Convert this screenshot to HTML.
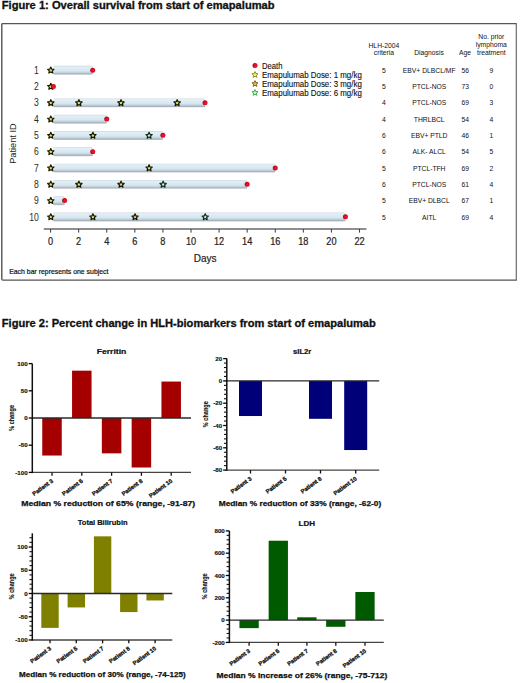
<!DOCTYPE html>
<html><head><meta charset="utf-8"><style>
html,body{margin:0;padding:0;background:#fff;width:520px;height:683px;overflow:hidden}
svg{display:block}
text{font-family:"Liberation Sans", sans-serif}
</style></head><body>
<svg width="520" height="683" viewBox="0 0 520 683">
<defs>
<linearGradient id="bar" x1="0" y1="0" x2="0" y2="1">
<stop offset="0" stop-color="#c9d5db"/>
<stop offset="0.12" stop-color="#e3eff6"/>
<stop offset="0.55" stop-color="#d6e8f1"/>
<stop offset="0.75" stop-color="#c4d2dc"/>
<stop offset="0.9" stop-color="#a6b0ba"/>
<stop offset="1" stop-color="#c4cad0"/>
</linearGradient>
<radialGradient id="dot" cx="0.6" cy="0.55" r="0.6">
<stop offset="0" stop-color="#f01838"/>
<stop offset="0.6" stop-color="#d80c20"/>
<stop offset="1" stop-color="#a80010"/>
</radialGradient>
</defs>
<rect x="0" y="0" width="520" height="683" fill="#fff"/>

<text x="1.80" y="8.70" font-size="10.2" text-anchor="start" font-weight="bold" fill="#111" textLength="272.80" lengthAdjust="spacingAndGlyphs" stroke="#111" stroke-width="0.3">Figure 1: Overall survival from start of emapalumab</text>
<path d="M516.2,23.6 H2.8 Q1.8,23.6 1.8,24.6 V279.1 Q1.8,280.1 2.8,280.1 H516.2" fill="none" stroke="#555" stroke-width="1.4"/>
<line x1="516.3" y1="23" x2="516.3" y2="280.7" stroke="#6a6a6a" stroke-width="1.2"/>
<rect x="53.20" y="65.85" width="39.52" height="8.9" rx="1.2" fill="url(#bar)"/>
<text x="0" y="0" font-size="10" text-anchor="end" fill="#2a2a2a" transform="translate(38.9,73.80) scale(0.86,1)">1</text>
<polygon points="50.80,67.05 51.71,69.10 53.94,69.33 52.28,70.83 52.74,73.02 50.80,71.90 48.86,73.02 49.32,70.83 47.66,69.33 49.89,69.10" fill="#e4ee5c" stroke="#141400" stroke-width="1.2" stroke-linejoin="round"/>
<circle cx="92.72" cy="70.15" r="2.5" fill="url(#dot)"/>
<text x="0" y="0" font-size="10" text-anchor="end" fill="#2a2a2a" transform="translate(38.9,90.10) scale(0.86,1)">2</text>
<polygon points="50.80,83.35 51.71,85.40 53.94,85.63 52.28,87.13 52.74,89.32 50.80,88.20 48.86,89.32 49.32,87.13 47.66,85.63 49.89,85.40" fill="#e4ee5c" stroke="#141400" stroke-width="1.2" stroke-linejoin="round"/>
<circle cx="53.41" cy="86.45" r="2.5" fill="url(#dot)"/>
<rect x="53.20" y="98.45" width="151.84" height="8.9" rx="1.2" fill="url(#bar)"/>
<text x="0" y="0" font-size="10" text-anchor="end" fill="#2a2a2a" transform="translate(38.9,106.40) scale(0.86,1)">3</text>
<polygon points="50.80,99.65 51.71,101.70 53.94,101.93 52.28,103.43 52.74,105.62 50.80,104.50 48.86,105.62 49.32,103.43 47.66,101.93 49.89,101.70" fill="#e4ee5c" stroke="#141400" stroke-width="1.2" stroke-linejoin="round"/>
<polygon points="78.88,99.65 79.79,101.70 82.02,101.93 80.36,103.43 80.82,105.62 78.88,104.50 76.94,105.62 77.40,103.43 75.74,101.93 77.97,101.70" fill="#e4ee5c" stroke="#141400" stroke-width="1.2" stroke-linejoin="round"/>
<polygon points="121.00,99.65 121.91,101.70 124.14,101.93 122.48,103.43 122.94,105.62 121.00,104.50 119.06,105.62 119.52,103.43 117.86,101.93 120.09,101.70" fill="#e4ee5c" stroke="#141400" stroke-width="1.2" stroke-linejoin="round"/>
<polygon points="177.16,99.65 178.07,101.70 180.30,101.93 178.64,103.43 179.10,105.62 177.16,104.50 175.22,105.62 175.68,103.43 174.02,101.93 176.25,101.70" fill="#e4ee5c" stroke="#141400" stroke-width="1.2" stroke-linejoin="round"/>
<circle cx="205.04" cy="102.75" r="2.5" fill="url(#dot)"/>
<rect x="53.20" y="114.75" width="53.56" height="8.9" rx="1.2" fill="url(#bar)"/>
<text x="0" y="0" font-size="10" text-anchor="end" fill="#2a2a2a" transform="translate(38.9,122.70) scale(0.86,1)">4</text>
<polygon points="50.80,115.95 51.71,118.00 53.94,118.23 52.28,119.73 52.74,121.92 50.80,120.80 48.86,121.92 49.32,119.73 47.66,118.23 49.89,118.00" fill="#e4ee5c" stroke="#141400" stroke-width="1.2" stroke-linejoin="round"/>
<circle cx="106.76" cy="119.05" r="2.5" fill="url(#dot)"/>
<rect x="53.20" y="131.05" width="109.72" height="8.9" rx="1.2" fill="url(#bar)"/>
<text x="0" y="0" font-size="10" text-anchor="end" fill="#2a2a2a" transform="translate(38.9,139.00) scale(0.86,1)">5</text>
<polygon points="50.80,132.25 51.71,134.30 53.94,134.53 52.28,136.03 52.74,138.22 50.80,137.10 48.86,138.22 49.32,136.03 47.66,134.53 49.89,134.30" fill="#e4ee5c" stroke="#141400" stroke-width="1.2" stroke-linejoin="round"/>
<polygon points="92.92,132.25 93.83,134.30 96.06,134.53 94.40,136.03 94.86,138.22 92.92,137.10 90.98,138.22 91.44,136.03 89.78,134.53 92.01,134.30" fill="#e4ee5c" stroke="#141400" stroke-width="1.2" stroke-linejoin="round"/>
<polygon points="149.08,132.25 149.99,134.30 152.22,134.53 150.56,136.03 151.02,138.22 149.08,137.10 147.14,138.22 147.60,136.03 145.94,134.53 148.17,134.30" fill="#dbeee8" stroke="#0c2a18" stroke-width="1.2" stroke-linejoin="round"/>
<circle cx="162.92" cy="135.35" r="2.5" fill="url(#dot)"/>
<rect x="53.20" y="147.35" width="39.52" height="8.9" rx="1.2" fill="url(#bar)"/>
<text x="0" y="0" font-size="10" text-anchor="end" fill="#2a2a2a" transform="translate(38.9,155.30) scale(0.86,1)">6</text>
<polygon points="50.80,148.55 51.71,150.60 53.94,150.83 52.28,152.33 52.74,154.52 50.80,153.40 48.86,154.52 49.32,152.33 47.66,150.83 49.89,150.60" fill="#e4ee5c" stroke="#141400" stroke-width="1.2" stroke-linejoin="round"/>
<circle cx="92.72" cy="151.65" r="2.5" fill="url(#dot)"/>
<rect x="53.20" y="163.65" width="222.04" height="8.9" rx="1.2" fill="url(#bar)"/>
<text x="0" y="0" font-size="10" text-anchor="end" fill="#2a2a2a" transform="translate(38.9,171.60) scale(0.86,1)">7</text>
<polygon points="50.80,164.85 51.71,166.90 53.94,167.13 52.28,168.63 52.74,170.82 50.80,169.70 48.86,170.82 49.32,168.63 47.66,167.13 49.89,166.90" fill="#e4ee5c" stroke="#141400" stroke-width="1.2" stroke-linejoin="round"/>
<polygon points="149.08,164.85 149.99,166.90 152.22,167.13 150.56,168.63 151.02,170.82 149.08,169.70 147.14,170.82 147.60,168.63 145.94,167.13 148.17,166.90" fill="#e4ee5c" stroke="#141400" stroke-width="1.2" stroke-linejoin="round"/>
<circle cx="275.24" cy="167.95" r="2.5" fill="url(#dot)"/>
<rect x="53.20" y="179.95" width="193.96" height="8.9" rx="1.2" fill="url(#bar)"/>
<text x="0" y="0" font-size="10" text-anchor="end" fill="#2a2a2a" transform="translate(38.9,187.90) scale(0.86,1)">8</text>
<polygon points="50.80,181.15 51.71,183.20 53.94,183.43 52.28,184.93 52.74,187.12 50.80,186.00 48.86,187.12 49.32,184.93 47.66,183.43 49.89,183.20" fill="#e4ee5c" stroke="#141400" stroke-width="1.2" stroke-linejoin="round"/>
<polygon points="78.88,181.15 79.79,183.20 82.02,183.43 80.36,184.93 80.82,187.12 78.88,186.00 76.94,187.12 77.40,184.93 75.74,183.43 77.97,183.20" fill="#e4ee5c" stroke="#141400" stroke-width="1.2" stroke-linejoin="round"/>
<polygon points="121.00,181.15 121.91,183.20 124.14,183.43 122.48,184.93 122.94,187.12 121.00,186.00 119.06,187.12 119.52,184.93 117.86,183.43 120.09,183.20" fill="#d6cc92" stroke="#1a1400" stroke-width="1.2" stroke-linejoin="round"/>
<polygon points="163.12,181.15 164.03,183.20 166.26,183.43 164.60,184.93 165.06,187.12 163.12,186.00 161.18,187.12 161.64,184.93 159.98,183.43 162.21,183.20" fill="#dbeee8" stroke="#0c2a18" stroke-width="1.2" stroke-linejoin="round"/>
<circle cx="247.16" cy="184.25" r="2.5" fill="url(#dot)"/>
<rect x="53.20" y="196.25" width="11.44" height="8.9" rx="1.2" fill="url(#bar)"/>
<text x="0" y="0" font-size="10" text-anchor="end" fill="#2a2a2a" transform="translate(38.9,204.20) scale(0.86,1)">9</text>
<polygon points="50.80,197.45 51.71,199.50 53.94,199.73 52.28,201.23 52.74,203.42 50.80,202.30 48.86,203.42 49.32,201.23 47.66,199.73 49.89,199.50" fill="#e4ee5c" stroke="#141400" stroke-width="1.2" stroke-linejoin="round"/>
<circle cx="64.64" cy="200.55" r="2.5" fill="url(#dot)"/>
<rect x="53.20" y="212.55" width="292.24" height="8.9" rx="1.2" fill="url(#bar)"/>
<text x="0" y="0" font-size="10" text-anchor="end" fill="#2a2a2a" transform="translate(38.9,220.50) scale(0.86,1)">10</text>
<polygon points="50.80,213.75 51.71,215.80 53.94,216.03 52.28,217.53 52.74,219.72 50.80,218.60 48.86,219.72 49.32,217.53 47.66,216.03 49.89,215.80" fill="#e4ee5c" stroke="#141400" stroke-width="1.2" stroke-linejoin="round"/>
<polygon points="92.92,213.75 93.83,215.80 96.06,216.03 94.40,217.53 94.86,219.72 92.92,218.60 90.98,219.72 91.44,217.53 89.78,216.03 92.01,215.80" fill="#e4ee5c" stroke="#141400" stroke-width="1.2" stroke-linejoin="round"/>
<polygon points="135.04,213.75 135.95,215.80 138.18,216.03 136.52,217.53 136.98,219.72 135.04,218.60 133.10,219.72 133.56,217.53 131.90,216.03 134.13,215.80" fill="#d6cc92" stroke="#1a1400" stroke-width="1.2" stroke-linejoin="round"/>
<polygon points="205.24,213.75 206.15,215.80 208.38,216.03 206.72,217.53 207.18,219.72 205.24,218.60 203.30,219.72 203.76,217.53 202.10,216.03 204.33,215.80" fill="#dbeee8" stroke="#0c2a18" stroke-width="1.2" stroke-linejoin="round"/>
<circle cx="345.44" cy="216.85" r="2.5" fill="url(#dot)"/>
<line x1="43.8" y1="229" x2="366.5" y2="229" stroke="#6a6a6a" stroke-width="1.6"/>
<line x1="50.60" y1="229" x2="50.60" y2="232.6" stroke="#3a3a3a" stroke-width="1"/>
<text x="0" y="0" font-size="10" text-anchor="middle" fill="#222" stroke="#222" stroke-width="0.2" transform="translate(50.60,245) scale(0.92,1)">0</text>
<line x1="78.68" y1="229" x2="78.68" y2="232.6" stroke="#3a3a3a" stroke-width="1"/>
<text x="0" y="0" font-size="10" text-anchor="middle" fill="#222" stroke="#222" stroke-width="0.2" transform="translate(78.68,245) scale(0.92,1)">2</text>
<line x1="106.76" y1="229" x2="106.76" y2="232.6" stroke="#3a3a3a" stroke-width="1"/>
<text x="0" y="0" font-size="10" text-anchor="middle" fill="#222" stroke="#222" stroke-width="0.2" transform="translate(106.76,245) scale(0.92,1)">4</text>
<line x1="134.84" y1="229" x2="134.84" y2="232.6" stroke="#3a3a3a" stroke-width="1"/>
<text x="0" y="0" font-size="10" text-anchor="middle" fill="#222" stroke="#222" stroke-width="0.2" transform="translate(134.84,245) scale(0.92,1)">6</text>
<line x1="162.92" y1="229" x2="162.92" y2="232.6" stroke="#3a3a3a" stroke-width="1"/>
<text x="0" y="0" font-size="10" text-anchor="middle" fill="#222" stroke="#222" stroke-width="0.2" transform="translate(162.92,245) scale(0.92,1)">8</text>
<line x1="191.00" y1="229" x2="191.00" y2="232.6" stroke="#3a3a3a" stroke-width="1"/>
<text x="0" y="0" font-size="10" text-anchor="middle" fill="#222" stroke="#222" stroke-width="0.2" transform="translate(191.00,245) scale(0.92,1)">10</text>
<line x1="219.08" y1="229" x2="219.08" y2="232.6" stroke="#3a3a3a" stroke-width="1"/>
<text x="0" y="0" font-size="10" text-anchor="middle" fill="#222" stroke="#222" stroke-width="0.2" transform="translate(219.08,245) scale(0.92,1)">12</text>
<line x1="247.16" y1="229" x2="247.16" y2="232.6" stroke="#3a3a3a" stroke-width="1"/>
<text x="0" y="0" font-size="10" text-anchor="middle" fill="#222" stroke="#222" stroke-width="0.2" transform="translate(247.16,245) scale(0.92,1)">14</text>
<line x1="275.24" y1="229" x2="275.24" y2="232.6" stroke="#3a3a3a" stroke-width="1"/>
<text x="0" y="0" font-size="10" text-anchor="middle" fill="#222" stroke="#222" stroke-width="0.2" transform="translate(275.24,245) scale(0.92,1)">16</text>
<line x1="303.32" y1="229" x2="303.32" y2="232.6" stroke="#3a3a3a" stroke-width="1"/>
<text x="0" y="0" font-size="10" text-anchor="middle" fill="#222" stroke="#222" stroke-width="0.2" transform="translate(303.32,245) scale(0.92,1)">18</text>
<line x1="331.40" y1="229" x2="331.40" y2="232.6" stroke="#3a3a3a" stroke-width="1"/>
<text x="0" y="0" font-size="10" text-anchor="middle" fill="#222" stroke="#222" stroke-width="0.2" transform="translate(331.40,245) scale(0.92,1)">20</text>
<line x1="359.48" y1="229" x2="359.48" y2="232.6" stroke="#3a3a3a" stroke-width="1"/>
<text x="0" y="0" font-size="10" text-anchor="middle" fill="#222" stroke="#222" stroke-width="0.2" transform="translate(359.48,245) scale(0.92,1)">22</text>
<text x="205.20" y="262.00" font-size="10" text-anchor="middle" font-weight="normal" fill="#222" stroke="#222" stroke-width="0.2">Days</text>
<text x="0" y="0" font-size="9.6" text-anchor="middle" fill="#222" textLength="40.4" lengthAdjust="spacingAndGlyphs" transform="translate(16.4,143.6) rotate(-90)">Patient ID</text>
<text x="9.20" y="273.60" font-size="7" text-anchor="start" font-weight="normal" fill="#111" textLength="99.30" lengthAdjust="spacingAndGlyphs" stroke="#111" stroke-width="0.2">Each bar represents one subject</text>
<circle cx="255" cy="65.6" r="2.5" fill="url(#dot)"/>
<polygon points="255.00,71.60 255.88,73.58 258.04,73.81 256.43,75.26 256.88,77.39 255.00,76.30 253.12,77.39 253.57,75.26 251.96,73.81 254.12,73.58" fill="#f6f650" stroke="#7a7a10" stroke-width="0.8" stroke-linejoin="round"/>
<polygon points="255.00,80.60 255.88,82.58 258.04,82.81 256.43,84.26 256.88,86.39 255.00,85.30 253.12,86.39 253.57,84.26 251.96,82.81 254.12,82.58" fill="#e0b848" stroke="#6a5000" stroke-width="0.8" stroke-linejoin="round"/>
<polygon points="255.00,89.50 255.88,91.48 258.04,91.71 256.43,93.16 256.88,95.29 255.00,94.20 253.12,95.29 253.57,93.16 251.96,91.71 254.12,91.48" fill="#c0ecc8" stroke="#2a9a3a" stroke-width="0.8" stroke-linejoin="round"/>
<text x="262.00" y="68.70" font-size="8.2" text-anchor="start" font-weight="normal" fill="#111" textLength="20.40" lengthAdjust="spacingAndGlyphs" stroke="#111" stroke-width="0.12">Death</text>
<text x="262.00" y="77.70" font-size="8.2" text-anchor="start" font-weight="normal" fill="#111" textLength="99.80" lengthAdjust="spacingAndGlyphs" stroke="#111" stroke-width="0.12">Emapulumab Dose: 1 mg/kg</text>
<text x="262.00" y="86.70" font-size="8.2" text-anchor="start" font-weight="normal" fill="#111" textLength="99.80" lengthAdjust="spacingAndGlyphs" stroke="#111" stroke-width="0.12">Emapulumab Dose: 3 mg/kg</text>
<text x="262.00" y="95.70" font-size="8.2" text-anchor="start" font-weight="normal" fill="#111" textLength="99.80" lengthAdjust="spacingAndGlyphs" stroke="#111" stroke-width="0.12">Emapulumab Dose: 6 mg/kg</text>
<text x="383.90" y="48.10" font-size="6.75" text-anchor="middle" font-weight="normal" fill="#111" >HLH-2004</text>
<text x="383.90" y="54.90" font-size="6.75" text-anchor="middle" font-weight="normal" fill="#111" >criteria</text>
<text x="429.00" y="54.90" font-size="6.75" text-anchor="middle" font-weight="normal" fill="#111" >Diagnosis</text>
<text x="465.10" y="54.90" font-size="6.75" text-anchor="middle" font-weight="normal" fill="#111" >Age</text>
<text x="491.30" y="38.60" font-size="6.75" text-anchor="middle" font-weight="normal" fill="#111" >No. prior</text>
<text x="491.30" y="46.90" font-size="6.75" text-anchor="middle" font-weight="normal" fill="#111" >lymphoma</text>
<text x="491.30" y="55.10" font-size="6.75" text-anchor="middle" font-weight="normal" fill="#111" >treatment</text>
<text x="384.00" y="72.80" font-size="6.75" text-anchor="middle" font-weight="normal" fill="#111" >5</text>
<text x="429.20" y="72.80" font-size="6.75" text-anchor="middle" font-weight="normal" fill="#111" >EBV+ DLBCL/MF</text>
<text x="465.30" y="72.80" font-size="6.75" text-anchor="middle" font-weight="normal" fill="#111" >56</text>
<text x="491.40" y="72.80" font-size="6.75" text-anchor="middle" font-weight="normal" fill="#111" >9</text>
<text x="384.00" y="89.10" font-size="6.75" text-anchor="middle" font-weight="normal" fill="#111" >5</text>
<text x="429.20" y="89.10" font-size="6.75" text-anchor="middle" font-weight="normal" fill="#111" >PTCL-NOS</text>
<text x="465.30" y="89.10" font-size="6.75" text-anchor="middle" font-weight="normal" fill="#111" >73</text>
<text x="491.40" y="89.10" font-size="6.75" text-anchor="middle" font-weight="normal" fill="#111" >0</text>
<text x="384.00" y="105.40" font-size="6.75" text-anchor="middle" font-weight="normal" fill="#111" >4</text>
<text x="429.20" y="105.40" font-size="6.75" text-anchor="middle" font-weight="normal" fill="#111" >PTCL-NOS</text>
<text x="465.30" y="105.40" font-size="6.75" text-anchor="middle" font-weight="normal" fill="#111" >69</text>
<text x="491.40" y="105.40" font-size="6.75" text-anchor="middle" font-weight="normal" fill="#111" >3</text>
<text x="384.00" y="121.70" font-size="6.75" text-anchor="middle" font-weight="normal" fill="#111" >4</text>
<text x="429.20" y="121.70" font-size="6.75" text-anchor="middle" font-weight="normal" fill="#111" >THRLBCL</text>
<text x="465.30" y="121.70" font-size="6.75" text-anchor="middle" font-weight="normal" fill="#111" >54</text>
<text x="491.40" y="121.70" font-size="6.75" text-anchor="middle" font-weight="normal" fill="#111" >4</text>
<text x="384.00" y="138.00" font-size="6.75" text-anchor="middle" font-weight="normal" fill="#111" >6</text>
<text x="429.20" y="138.00" font-size="6.75" text-anchor="middle" font-weight="normal" fill="#111" >EBV+ PTLD</text>
<text x="465.30" y="138.00" font-size="6.75" text-anchor="middle" font-weight="normal" fill="#111" >46</text>
<text x="491.40" y="138.00" font-size="6.75" text-anchor="middle" font-weight="normal" fill="#111" >1</text>
<text x="384.00" y="154.30" font-size="6.75" text-anchor="middle" font-weight="normal" fill="#111" >6</text>
<text x="429.20" y="154.30" font-size="6.75" text-anchor="middle" font-weight="normal" fill="#111" >ALK- ALCL</text>
<text x="465.30" y="154.30" font-size="6.75" text-anchor="middle" font-weight="normal" fill="#111" >54</text>
<text x="491.40" y="154.30" font-size="6.75" text-anchor="middle" font-weight="normal" fill="#111" >5</text>
<text x="384.00" y="170.60" font-size="6.75" text-anchor="middle" font-weight="normal" fill="#111" >5</text>
<text x="429.20" y="170.60" font-size="6.75" text-anchor="middle" font-weight="normal" fill="#111" >PTCL-TFH</text>
<text x="465.30" y="170.60" font-size="6.75" text-anchor="middle" font-weight="normal" fill="#111" >69</text>
<text x="491.40" y="170.60" font-size="6.75" text-anchor="middle" font-weight="normal" fill="#111" >2</text>
<text x="384.00" y="186.90" font-size="6.75" text-anchor="middle" font-weight="normal" fill="#111" >6</text>
<text x="429.20" y="186.90" font-size="6.75" text-anchor="middle" font-weight="normal" fill="#111" >PTCL-NOS</text>
<text x="465.30" y="186.90" font-size="6.75" text-anchor="middle" font-weight="normal" fill="#111" >61</text>
<text x="491.40" y="186.90" font-size="6.75" text-anchor="middle" font-weight="normal" fill="#111" >4</text>
<text x="384.00" y="203.20" font-size="6.75" text-anchor="middle" font-weight="normal" fill="#111" >5</text>
<text x="429.20" y="203.20" font-size="6.75" text-anchor="middle" font-weight="normal" fill="#111" >EBV+ DLBCL</text>
<text x="465.30" y="203.20" font-size="6.75" text-anchor="middle" font-weight="normal" fill="#111" >67</text>
<text x="491.40" y="203.20" font-size="6.75" text-anchor="middle" font-weight="normal" fill="#111" >1</text>
<text x="384.00" y="219.50" font-size="6.75" text-anchor="middle" font-weight="normal" fill="#111" >5</text>
<text x="429.20" y="219.50" font-size="6.75" text-anchor="middle" font-weight="normal" fill="#111" >AITL</text>
<text x="465.30" y="219.50" font-size="6.75" text-anchor="middle" font-weight="normal" fill="#111" >69</text>
<text x="491.40" y="219.50" font-size="6.75" text-anchor="middle" font-weight="normal" fill="#111" >4</text>
<text x="1.80" y="327.00" font-size="10.6" text-anchor="start" font-weight="bold" fill="#111" textLength="374.00" lengthAdjust="spacingAndGlyphs" stroke="#111" stroke-width="0.3">Figure 2: Percent change in HLH-biomarkers from start of emapalumab</text>
<rect x="42.25" y="418.00" width="19.50" height="37.54" fill="#a50000"/>
<rect x="72.05" y="370.67" width="19.50" height="47.33" fill="#a50000"/>
<rect x="101.85" y="418.00" width="19.50" height="35.36" fill="#a50000"/>
<rect x="131.65" y="418.00" width="19.50" height="49.50" fill="#a50000"/>
<rect x="161.45" y="381.55" width="19.50" height="36.45" fill="#a50000"/>
<line x1="32.30" y1="472.40" x2="191.00" y2="472.40" stroke="#444" stroke-width="1.4"/>
<line x1="52.00" y1="472.40" x2="52.00" y2="475.80" stroke="#111" stroke-width="1.3"/>
<line x1="81.80" y1="472.40" x2="81.80" y2="475.80" stroke="#111" stroke-width="1.3"/>
<line x1="111.60" y1="472.40" x2="111.60" y2="475.80" stroke="#111" stroke-width="1.3"/>
<line x1="141.40" y1="472.40" x2="141.40" y2="475.80" stroke="#111" stroke-width="1.3"/>
<line x1="171.20" y1="472.40" x2="171.20" y2="475.80" stroke="#111" stroke-width="1.3"/>
<line x1="32.30" y1="418.00" x2="191.00" y2="418.00" stroke="#2a2a2a" stroke-width="1.4"/>
<line x1="32.30" y1="363.60" x2="32.30" y2="473.10" stroke="#111" stroke-width="1.5"/>
<line x1="28.70" y1="363.60" x2="32.30" y2="363.60" stroke="#000" stroke-width="1.3"/>
<text x="27.70" y="365.80" font-size="6.2" text-anchor="end" font-weight="bold" fill="#111" stroke="#111" stroke-width="0.15">100</text>
<line x1="28.70" y1="390.80" x2="32.30" y2="390.80" stroke="#000" stroke-width="1.3"/>
<text x="27.70" y="393.00" font-size="6.2" text-anchor="end" font-weight="bold" fill="#111" stroke="#111" stroke-width="0.15">50</text>
<line x1="28.70" y1="418.00" x2="32.30" y2="418.00" stroke="#000" stroke-width="1.3"/>
<text x="27.70" y="420.20" font-size="6.2" text-anchor="end" font-weight="bold" fill="#111" stroke="#111" stroke-width="0.15">0</text>
<line x1="28.70" y1="445.20" x2="32.30" y2="445.20" stroke="#000" stroke-width="1.3"/>
<text x="27.70" y="447.40" font-size="6.2" text-anchor="end" font-weight="bold" fill="#111" stroke="#111" stroke-width="0.15">-50</text>
<line x1="28.70" y1="472.40" x2="32.30" y2="472.40" stroke="#000" stroke-width="1.3"/>
<text x="27.70" y="474.60" font-size="6.2" text-anchor="end" font-weight="bold" fill="#111" stroke="#111" stroke-width="0.15">-100</text>
<text x="0" y="0" font-size="5.8" font-weight="bold" text-anchor="end" fill="#111" stroke="#111" stroke-width="0.3" transform="translate(53.60,481.80) rotate(-36)">Patient 3</text>
<text x="0" y="0" font-size="5.8" font-weight="bold" text-anchor="end" fill="#111" stroke="#111" stroke-width="0.3" transform="translate(83.40,481.80) rotate(-36)">Patient 5</text>
<text x="0" y="0" font-size="5.8" font-weight="bold" text-anchor="end" fill="#111" stroke="#111" stroke-width="0.3" transform="translate(113.20,481.80) rotate(-36)">Patient 7</text>
<text x="0" y="0" font-size="5.8" font-weight="bold" text-anchor="end" fill="#111" stroke="#111" stroke-width="0.3" transform="translate(143.00,481.80) rotate(-36)">Patient 8</text>
<text x="0" y="0" font-size="5.8" font-weight="bold" text-anchor="end" fill="#111" stroke="#111" stroke-width="0.3" transform="translate(172.80,481.80) rotate(-36)">Patient 10</text>
<text x="111.50" y="354.20" font-size="7" text-anchor="middle" font-weight="bold" fill="#111" textLength="29.60" lengthAdjust="spacingAndGlyphs" stroke="#111" stroke-width="0.2">Ferritin</text>
<text x="0" y="0" font-size="7" font-weight="bold" text-anchor="middle" fill="#111" stroke="#111" stroke-width="0.15" textLength="25.9" lengthAdjust="spacingAndGlyphs" transform="translate(14.30,417.90) rotate(-90)">% change</text>
<text x="21.20" y="505.80" font-size="7.2" text-anchor="start" font-weight="bold" fill="#111" textLength="174.00" lengthAdjust="spacingAndGlyphs" stroke="#111" stroke-width="0.25">Median % reduction of 65% (range, -91-87)</text>
<rect x="239.00" y="380.90" width="23.00" height="35.12" fill="#000078"/>
<rect x="274.00" y="380.90" width="23.00" height="0.00" fill="#000078"/>
<rect x="309.00" y="380.90" width="23.00" height="37.91" fill="#000078"/>
<rect x="344.20" y="380.90" width="23.00" height="69.13" fill="#000078"/>
<line x1="226.80" y1="470.10" x2="379.20" y2="470.10" stroke="#444" stroke-width="1.4"/>
<line x1="250.50" y1="470.10" x2="250.50" y2="473.50" stroke="#111" stroke-width="1.3"/>
<line x1="285.50" y1="470.10" x2="285.50" y2="473.50" stroke="#111" stroke-width="1.3"/>
<line x1="320.50" y1="470.10" x2="320.50" y2="473.50" stroke="#111" stroke-width="1.3"/>
<line x1="355.70" y1="470.10" x2="355.70" y2="473.50" stroke="#111" stroke-width="1.3"/>
<line x1="226.80" y1="380.90" x2="379.20" y2="380.90" stroke="#2a2a2a" stroke-width="1.4"/>
<line x1="226.80" y1="358.60" x2="226.80" y2="470.80" stroke="#111" stroke-width="1.5"/>
<line x1="223.20" y1="358.60" x2="226.80" y2="358.60" stroke="#000" stroke-width="1.3"/>
<text x="222.20" y="360.80" font-size="6.2" text-anchor="end" font-weight="bold" fill="#111" stroke="#111" stroke-width="0.15">20</text>
<line x1="223.20" y1="380.90" x2="226.80" y2="380.90" stroke="#000" stroke-width="1.3"/>
<text x="222.20" y="383.10" font-size="6.2" text-anchor="end" font-weight="bold" fill="#111" stroke="#111" stroke-width="0.15">0</text>
<line x1="223.20" y1="403.20" x2="226.80" y2="403.20" stroke="#000" stroke-width="1.3"/>
<text x="222.20" y="405.40" font-size="6.2" text-anchor="end" font-weight="bold" fill="#111" stroke="#111" stroke-width="0.15">-20</text>
<line x1="223.20" y1="425.50" x2="226.80" y2="425.50" stroke="#000" stroke-width="1.3"/>
<text x="222.20" y="427.70" font-size="6.2" text-anchor="end" font-weight="bold" fill="#111" stroke="#111" stroke-width="0.15">-40</text>
<line x1="223.20" y1="447.80" x2="226.80" y2="447.80" stroke="#000" stroke-width="1.3"/>
<text x="222.20" y="450.00" font-size="6.2" text-anchor="end" font-weight="bold" fill="#111" stroke="#111" stroke-width="0.15">-60</text>
<line x1="223.20" y1="470.10" x2="226.80" y2="470.10" stroke="#000" stroke-width="1.3"/>
<text x="222.20" y="472.30" font-size="6.2" text-anchor="end" font-weight="bold" fill="#111" stroke="#111" stroke-width="0.15">-80</text>
<line x1="224.00" y1="465.64" x2="226.80" y2="465.64" stroke="#111" stroke-width="1.1"/>
<line x1="224.00" y1="461.18" x2="226.80" y2="461.18" stroke="#111" stroke-width="1.1"/>
<line x1="224.00" y1="456.72" x2="226.80" y2="456.72" stroke="#111" stroke-width="1.1"/>
<line x1="224.00" y1="452.26" x2="226.80" y2="452.26" stroke="#111" stroke-width="1.1"/>
<line x1="224.00" y1="443.34" x2="226.80" y2="443.34" stroke="#111" stroke-width="1.1"/>
<line x1="224.00" y1="438.88" x2="226.80" y2="438.88" stroke="#111" stroke-width="1.1"/>
<line x1="224.00" y1="434.42" x2="226.80" y2="434.42" stroke="#111" stroke-width="1.1"/>
<line x1="224.00" y1="429.96" x2="226.80" y2="429.96" stroke="#111" stroke-width="1.1"/>
<line x1="224.00" y1="421.04" x2="226.80" y2="421.04" stroke="#111" stroke-width="1.1"/>
<line x1="224.00" y1="416.58" x2="226.80" y2="416.58" stroke="#111" stroke-width="1.1"/>
<line x1="224.00" y1="412.12" x2="226.80" y2="412.12" stroke="#111" stroke-width="1.1"/>
<line x1="224.00" y1="407.66" x2="226.80" y2="407.66" stroke="#111" stroke-width="1.1"/>
<line x1="224.00" y1="398.74" x2="226.80" y2="398.74" stroke="#111" stroke-width="1.1"/>
<line x1="224.00" y1="394.28" x2="226.80" y2="394.28" stroke="#111" stroke-width="1.1"/>
<line x1="224.00" y1="389.82" x2="226.80" y2="389.82" stroke="#111" stroke-width="1.1"/>
<line x1="224.00" y1="385.36" x2="226.80" y2="385.36" stroke="#111" stroke-width="1.1"/>
<line x1="224.00" y1="376.44" x2="226.80" y2="376.44" stroke="#111" stroke-width="1.1"/>
<line x1="224.00" y1="371.98" x2="226.80" y2="371.98" stroke="#111" stroke-width="1.1"/>
<line x1="224.00" y1="367.52" x2="226.80" y2="367.52" stroke="#111" stroke-width="1.1"/>
<line x1="224.00" y1="363.06" x2="226.80" y2="363.06" stroke="#111" stroke-width="1.1"/>
<text x="0" y="0" font-size="5.8" font-weight="bold" text-anchor="end" fill="#111" stroke="#111" stroke-width="0.3" transform="translate(252.10,479.50) rotate(-36)">Patient 3</text>
<text x="0" y="0" font-size="5.8" font-weight="bold" text-anchor="end" fill="#111" stroke="#111" stroke-width="0.3" transform="translate(287.10,479.50) rotate(-36)">Patient 5</text>
<text x="0" y="0" font-size="5.8" font-weight="bold" text-anchor="end" fill="#111" stroke="#111" stroke-width="0.3" transform="translate(322.10,479.50) rotate(-36)">Patient 8</text>
<text x="0" y="0" font-size="5.8" font-weight="bold" text-anchor="end" fill="#111" stroke="#111" stroke-width="0.3" transform="translate(357.30,479.50) rotate(-36)">Patient 10</text>
<text x="302.20" y="354.20" font-size="7" text-anchor="middle" font-weight="bold" fill="#111" textLength="18.30" lengthAdjust="spacingAndGlyphs" stroke="#111" stroke-width="0.2">sIL2r</text>
<text x="0" y="0" font-size="7" font-weight="bold" text-anchor="middle" fill="#111" stroke="#111" stroke-width="0.15" textLength="25.9" lengthAdjust="spacingAndGlyphs" transform="translate(207.50,414.20) rotate(-90)">% change</text>
<text x="218.70" y="505.80" font-size="7.2" text-anchor="start" font-weight="bold" fill="#111" textLength="162.60" lengthAdjust="spacingAndGlyphs" stroke="#111" stroke-width="0.25">Median % reduction of 33% (range, -62-0)</text>
<rect x="41.30" y="593.50" width="17.40" height="34.39" fill="#808000"/>
<rect x="67.60" y="593.50" width="17.40" height="13.94" fill="#808000"/>
<rect x="93.90" y="536.34" width="17.40" height="57.16" fill="#808000"/>
<rect x="120.10" y="593.50" width="17.40" height="18.59" fill="#808000"/>
<rect x="146.40" y="593.50" width="17.40" height="6.97" fill="#808000"/>
<line x1="32.30" y1="639.97" x2="172.30" y2="639.97" stroke="#444" stroke-width="1.4"/>
<line x1="50.00" y1="639.97" x2="50.00" y2="643.37" stroke="#111" stroke-width="1.3"/>
<line x1="76.30" y1="639.97" x2="76.30" y2="643.37" stroke="#111" stroke-width="1.3"/>
<line x1="102.60" y1="639.97" x2="102.60" y2="643.37" stroke="#111" stroke-width="1.3"/>
<line x1="128.80" y1="639.97" x2="128.80" y2="643.37" stroke="#111" stroke-width="1.3"/>
<line x1="155.10" y1="639.97" x2="155.10" y2="643.37" stroke="#111" stroke-width="1.3"/>
<line x1="32.30" y1="593.50" x2="172.30" y2="593.50" stroke="#2a2a2a" stroke-width="1.4"/>
<line x1="32.30" y1="533.30" x2="32.30" y2="640.67" stroke="#111" stroke-width="1.5"/>
<line x1="28.70" y1="547.03" x2="32.30" y2="547.03" stroke="#000" stroke-width="1.3"/>
<text x="27.70" y="549.23" font-size="6.2" text-anchor="end" font-weight="bold" fill="#111" stroke="#111" stroke-width="0.15">100</text>
<line x1="28.70" y1="570.26" x2="32.30" y2="570.26" stroke="#000" stroke-width="1.3"/>
<text x="27.70" y="572.47" font-size="6.2" text-anchor="end" font-weight="bold" fill="#111" stroke="#111" stroke-width="0.15">50</text>
<line x1="28.70" y1="593.50" x2="32.30" y2="593.50" stroke="#000" stroke-width="1.3"/>
<text x="27.70" y="595.70" font-size="6.2" text-anchor="end" font-weight="bold" fill="#111" stroke="#111" stroke-width="0.15">0</text>
<line x1="28.70" y1="616.74" x2="32.30" y2="616.74" stroke="#000" stroke-width="1.3"/>
<text x="27.70" y="618.94" font-size="6.2" text-anchor="end" font-weight="bold" fill="#111" stroke="#111" stroke-width="0.15">-50</text>
<line x1="28.70" y1="639.97" x2="32.30" y2="639.97" stroke="#000" stroke-width="1.3"/>
<text x="27.70" y="642.17" font-size="6.2" text-anchor="end" font-weight="bold" fill="#111" stroke="#111" stroke-width="0.15">-100</text>
<line x1="29.50" y1="635.32" x2="32.30" y2="635.32" stroke="#111" stroke-width="1.1"/>
<line x1="29.50" y1="630.68" x2="32.30" y2="630.68" stroke="#111" stroke-width="1.1"/>
<line x1="29.50" y1="626.03" x2="32.30" y2="626.03" stroke="#111" stroke-width="1.1"/>
<line x1="29.50" y1="621.38" x2="32.30" y2="621.38" stroke="#111" stroke-width="1.1"/>
<line x1="29.50" y1="612.09" x2="32.30" y2="612.09" stroke="#111" stroke-width="1.1"/>
<line x1="29.50" y1="607.44" x2="32.30" y2="607.44" stroke="#111" stroke-width="1.1"/>
<line x1="29.50" y1="602.79" x2="32.30" y2="602.79" stroke="#111" stroke-width="1.1"/>
<line x1="29.50" y1="598.15" x2="32.30" y2="598.15" stroke="#111" stroke-width="1.1"/>
<line x1="29.50" y1="588.85" x2="32.30" y2="588.85" stroke="#111" stroke-width="1.1"/>
<line x1="29.50" y1="584.21" x2="32.30" y2="584.21" stroke="#111" stroke-width="1.1"/>
<line x1="29.50" y1="579.56" x2="32.30" y2="579.56" stroke="#111" stroke-width="1.1"/>
<line x1="29.50" y1="574.91" x2="32.30" y2="574.91" stroke="#111" stroke-width="1.1"/>
<line x1="29.50" y1="565.62" x2="32.30" y2="565.62" stroke="#111" stroke-width="1.1"/>
<line x1="29.50" y1="560.97" x2="32.30" y2="560.97" stroke="#111" stroke-width="1.1"/>
<line x1="29.50" y1="556.32" x2="32.30" y2="556.32" stroke="#111" stroke-width="1.1"/>
<line x1="29.50" y1="551.68" x2="32.30" y2="551.68" stroke="#111" stroke-width="1.1"/>
<line x1="29.50" y1="542.38" x2="32.30" y2="542.38" stroke="#111" stroke-width="1.1"/>
<line x1="29.50" y1="537.74" x2="32.30" y2="537.74" stroke="#111" stroke-width="1.1"/>
<text x="0" y="0" font-size="5.8" font-weight="bold" text-anchor="end" fill="#111" stroke="#111" stroke-width="0.3" transform="translate(51.60,649.37) rotate(-36)">Patient 3</text>
<text x="0" y="0" font-size="5.8" font-weight="bold" text-anchor="end" fill="#111" stroke="#111" stroke-width="0.3" transform="translate(77.90,649.37) rotate(-36)">Patient 5</text>
<text x="0" y="0" font-size="5.8" font-weight="bold" text-anchor="end" fill="#111" stroke="#111" stroke-width="0.3" transform="translate(104.20,649.37) rotate(-36)">Patient 7</text>
<text x="0" y="0" font-size="5.8" font-weight="bold" text-anchor="end" fill="#111" stroke="#111" stroke-width="0.3" transform="translate(130.40,649.37) rotate(-36)">Patient 8</text>
<text x="0" y="0" font-size="5.8" font-weight="bold" text-anchor="end" fill="#111" stroke="#111" stroke-width="0.3" transform="translate(156.70,649.37) rotate(-36)">Patient 10</text>
<text x="102.70" y="524.60" font-size="7" text-anchor="middle" font-weight="bold" fill="#111" textLength="49.80" lengthAdjust="spacingAndGlyphs" stroke="#111" stroke-width="0.2">Total Bilirubin</text>
<text x="0" y="0" font-size="7" font-weight="bold" text-anchor="middle" fill="#111" stroke="#111" stroke-width="0.15" textLength="25.9" lengthAdjust="spacingAndGlyphs" transform="translate(14.30,586.30) rotate(-90)">% change</text>
<text x="19.10" y="677.10" font-size="7.2" text-anchor="start" font-weight="bold" fill="#111" textLength="166.50" lengthAdjust="spacingAndGlyphs" stroke="#111" stroke-width="0.25">Median % reduction of 30% (range, -74-125)</text>
<rect x="239.45" y="620.10" width="19.30" height="8.03" fill="#005a00"/>
<rect x="268.65" y="540.71" width="19.30" height="79.39" fill="#005a00"/>
<rect x="297.25" y="617.31" width="19.30" height="2.79" fill="#005a00"/>
<rect x="326.15" y="620.10" width="19.30" height="6.69" fill="#005a00"/>
<rect x="355.35" y="592.00" width="19.30" height="28.10" fill="#005a00"/>
<line x1="229.40" y1="642.40" x2="383.80" y2="642.40" stroke="#444" stroke-width="1.4"/>
<line x1="249.10" y1="642.40" x2="249.10" y2="645.80" stroke="#111" stroke-width="1.3"/>
<line x1="278.30" y1="642.40" x2="278.30" y2="645.80" stroke="#111" stroke-width="1.3"/>
<line x1="306.90" y1="642.40" x2="306.90" y2="645.80" stroke="#111" stroke-width="1.3"/>
<line x1="335.80" y1="642.40" x2="335.80" y2="645.80" stroke="#111" stroke-width="1.3"/>
<line x1="365.00" y1="642.40" x2="365.00" y2="645.80" stroke="#111" stroke-width="1.3"/>
<line x1="229.40" y1="620.10" x2="383.80" y2="620.10" stroke="#2a2a2a" stroke-width="1.4"/>
<line x1="229.40" y1="530.90" x2="229.40" y2="643.10" stroke="#111" stroke-width="1.5"/>
<line x1="225.80" y1="530.90" x2="229.40" y2="530.90" stroke="#000" stroke-width="1.3"/>
<text x="224.80" y="533.10" font-size="6.2" text-anchor="end" font-weight="bold" fill="#111" stroke="#111" stroke-width="0.15">800</text>
<line x1="225.80" y1="553.20" x2="229.40" y2="553.20" stroke="#000" stroke-width="1.3"/>
<text x="224.80" y="555.40" font-size="6.2" text-anchor="end" font-weight="bold" fill="#111" stroke="#111" stroke-width="0.15">600</text>
<line x1="225.80" y1="575.50" x2="229.40" y2="575.50" stroke="#000" stroke-width="1.3"/>
<text x="224.80" y="577.70" font-size="6.2" text-anchor="end" font-weight="bold" fill="#111" stroke="#111" stroke-width="0.15">400</text>
<line x1="225.80" y1="597.80" x2="229.40" y2="597.80" stroke="#000" stroke-width="1.3"/>
<text x="224.80" y="600.00" font-size="6.2" text-anchor="end" font-weight="bold" fill="#111" stroke="#111" stroke-width="0.15">200</text>
<line x1="225.80" y1="620.10" x2="229.40" y2="620.10" stroke="#000" stroke-width="1.3"/>
<text x="224.80" y="622.30" font-size="6.2" text-anchor="end" font-weight="bold" fill="#111" stroke="#111" stroke-width="0.15">0</text>
<line x1="225.80" y1="642.40" x2="229.40" y2="642.40" stroke="#000" stroke-width="1.3"/>
<text x="224.80" y="644.60" font-size="6.2" text-anchor="end" font-weight="bold" fill="#111" stroke="#111" stroke-width="0.15">-200</text>
<line x1="226.60" y1="637.94" x2="229.40" y2="637.94" stroke="#111" stroke-width="1.1"/>
<line x1="226.60" y1="633.48" x2="229.40" y2="633.48" stroke="#111" stroke-width="1.1"/>
<line x1="226.60" y1="629.02" x2="229.40" y2="629.02" stroke="#111" stroke-width="1.1"/>
<line x1="226.60" y1="624.56" x2="229.40" y2="624.56" stroke="#111" stroke-width="1.1"/>
<line x1="226.60" y1="615.64" x2="229.40" y2="615.64" stroke="#111" stroke-width="1.1"/>
<line x1="226.60" y1="611.18" x2="229.40" y2="611.18" stroke="#111" stroke-width="1.1"/>
<line x1="226.60" y1="606.72" x2="229.40" y2="606.72" stroke="#111" stroke-width="1.1"/>
<line x1="226.60" y1="602.26" x2="229.40" y2="602.26" stroke="#111" stroke-width="1.1"/>
<line x1="226.60" y1="593.34" x2="229.40" y2="593.34" stroke="#111" stroke-width="1.1"/>
<line x1="226.60" y1="588.88" x2="229.40" y2="588.88" stroke="#111" stroke-width="1.1"/>
<line x1="226.60" y1="584.42" x2="229.40" y2="584.42" stroke="#111" stroke-width="1.1"/>
<line x1="226.60" y1="579.96" x2="229.40" y2="579.96" stroke="#111" stroke-width="1.1"/>
<line x1="226.60" y1="571.04" x2="229.40" y2="571.04" stroke="#111" stroke-width="1.1"/>
<line x1="226.60" y1="566.58" x2="229.40" y2="566.58" stroke="#111" stroke-width="1.1"/>
<line x1="226.60" y1="562.12" x2="229.40" y2="562.12" stroke="#111" stroke-width="1.1"/>
<line x1="226.60" y1="557.66" x2="229.40" y2="557.66" stroke="#111" stroke-width="1.1"/>
<line x1="226.60" y1="548.74" x2="229.40" y2="548.74" stroke="#111" stroke-width="1.1"/>
<line x1="226.60" y1="544.28" x2="229.40" y2="544.28" stroke="#111" stroke-width="1.1"/>
<line x1="226.60" y1="539.82" x2="229.40" y2="539.82" stroke="#111" stroke-width="1.1"/>
<line x1="226.60" y1="535.36" x2="229.40" y2="535.36" stroke="#111" stroke-width="1.1"/>
<text x="0" y="0" font-size="5.8" font-weight="bold" text-anchor="end" fill="#111" stroke="#111" stroke-width="0.3" transform="translate(250.70,651.80) rotate(-36)">Patient 3</text>
<text x="0" y="0" font-size="5.8" font-weight="bold" text-anchor="end" fill="#111" stroke="#111" stroke-width="0.3" transform="translate(279.90,651.80) rotate(-36)">Patient 5</text>
<text x="0" y="0" font-size="5.8" font-weight="bold" text-anchor="end" fill="#111" stroke="#111" stroke-width="0.3" transform="translate(308.50,651.80) rotate(-36)">Patient 7</text>
<text x="0" y="0" font-size="5.8" font-weight="bold" text-anchor="end" fill="#111" stroke="#111" stroke-width="0.3" transform="translate(337.40,651.80) rotate(-36)">Patient 8</text>
<text x="0" y="0" font-size="5.8" font-weight="bold" text-anchor="end" fill="#111" stroke="#111" stroke-width="0.3" transform="translate(366.60,651.80) rotate(-36)">Patient 10</text>
<text x="306.80" y="525.80" font-size="7" text-anchor="middle" font-weight="bold" fill="#111" textLength="16.50" lengthAdjust="spacingAndGlyphs" stroke="#111" stroke-width="0.2">LDH</text>
<text x="0" y="0" font-size="7" font-weight="bold" text-anchor="middle" fill="#111" stroke="#111" stroke-width="0.15" textLength="25.9" lengthAdjust="spacingAndGlyphs" transform="translate(207.30,586.30) rotate(-90)">% change</text>
<text x="216.50" y="678.40" font-size="7.2" text-anchor="start" font-weight="bold" fill="#111" textLength="170.80" lengthAdjust="spacingAndGlyphs" stroke="#111" stroke-width="0.25">Median % increase of 26% (range, -75-712)</text>
</svg></body></html>
